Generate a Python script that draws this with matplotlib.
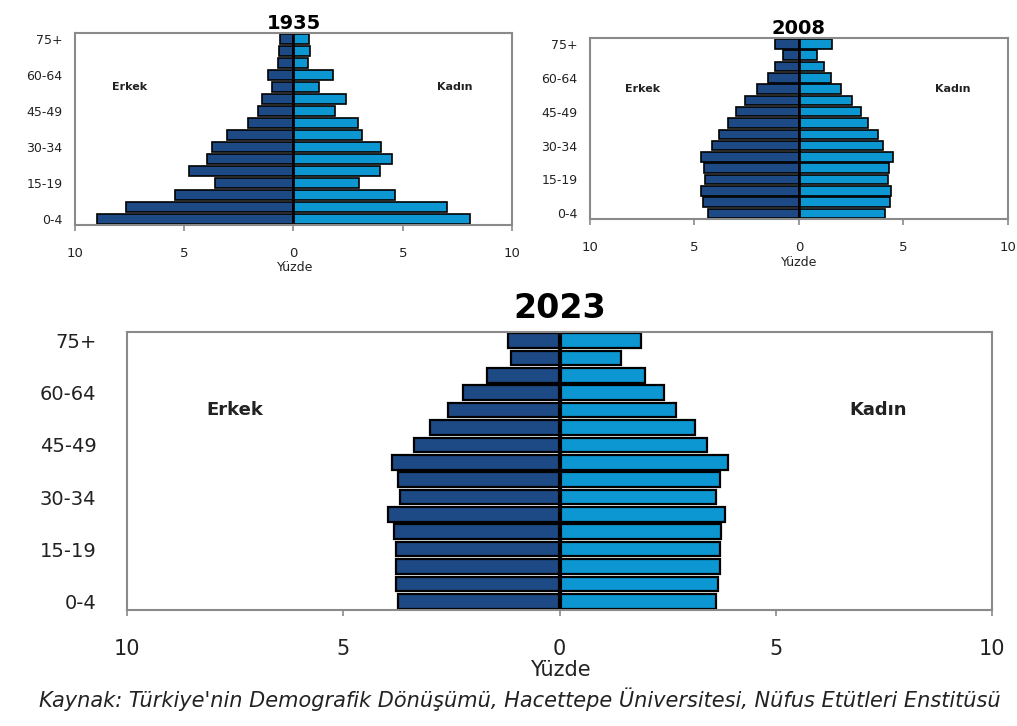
import matplotlib.pyplot as plt
import numpy as np

# age groups, bottom (0-4) to top (75+)
ages = ["0-4", "5-9", "10-14", "15-19", "20-24", "25-29", "30-34", "35-39",
        "40-44", "45-49", "50-54", "55-59", "60-64", "65-69", "70-74", "75+"]

# percent of population, listed bottom to top
men_1935 = [9.0, 7.66, 5.42, 3.59, 4.78, 3.97, 3.74, 3.05,
            2.06, 1.6, 1.45, 1.0, 1.15, 0.69, 0.64, 0.61]
women_1935 = [8.09, 7.02, 4.63, 2.98, 3.97, 4.5, 4.02, 3.13,
              2.95, 1.91, 2.41, 1.18, 1.8, 0.66, 0.76, 0.72]

men_2008 = [4.35, 4.59, 4.67, 4.51, 4.54, 4.67, 4.14, 3.82,
            3.39, 3.03, 2.6, 2.0, 1.48, 1.12, 0.76, 1.16]
women_2008 = [4.1, 4.37, 4.41, 4.25, 4.3, 4.49, 4.02, 3.78,
              3.3, 2.98, 2.55, 2.02, 1.55, 1.18, 0.86, 1.58]

men_2023 = [3.74, 3.77, 3.78, 3.78, 3.82, 3.97, 3.69, 3.74,
            3.88, 3.37, 2.99, 2.58, 2.24, 1.68, 1.13, 1.2]
women_2023 = [3.61, 3.67, 3.7, 3.72, 3.74, 3.82, 3.61, 3.7,
              3.9, 3.4, 3.13, 2.69, 2.41, 1.97, 1.43, 1.89]

xticks = [-10, -5, 0, 5, 10]
xticklabels = ["10", "5", "0", "5", "10"]

MEN = "#1d4a85"
WOMEN = "#0c97d3"

fig = plt.figure(figsize=(10.17, 7.26), dpi=100)


def pyramid(rect, men, women, title, big=False):
    ax = fig.add_axes(rect)
    y = np.arange(len(ages))
    lw = 1.6 if big else 1.2
    ax.barh(y, -np.array(men), height=0.84, color=MEN, edgecolor="black", linewidth=lw)
    ax.barh(y, women, height=0.84, color=WOMEN, edgecolor="black", linewidth=lw)
    ax.axvline(0, color="black", linewidth=3 if big else 2)
    ax.set_xlim(-10, 10)
    ax.set_ylim(-0.5, len(ages) - 0.5)
    for s in ax.spines.values():
        s.set_color("#8a8a8a")
        s.set_linewidth(1.5)
    ax.set_yticks(y[::3])
    ax.set_yticklabels(ages[::3])
    ax.set_xticks(xticks)
    ax.set_xticklabels(xticklabels)
    ax.tick_params(axis="y", length=0, labelsize=14 if big else 9,
                   pad=22 if big else 9, colors="#222222")
    ax.tick_params(axis="x", length=4, width=1.2, color="#8a8a8a",
                   labelsize=15 if big else 9.5, pad=17 if big else 12, labelcolor="#222222")
    ax.set_title(title, fontsize=24 if big else 14, fontweight="bold", pad=10 if big else 2)
    lab = 13 if big else 8
    ax.text(0.125, 0.72, "Erkek", transform=ax.transAxes, ha="center", va="center",
            fontsize=lab, fontweight="bold", color="#222222")
    ax.text(0.868, 0.72, "Kadın", transform=ax.transAxes, ha="center", va="center",
            fontsize=lab, fontweight="bold", color="#222222")
    return ax


pyramid([0.0737, 0.690, 0.4297, 0.2645], men_1935, women_1935, "1935")
pyramid([0.580, 0.6983, 0.411, 0.249], men_2008, women_2008, "2008")
pyramid([0.1249, 0.1598, 0.8505, 0.383], men_2023, women_2023, "2023", big=True)

fig.text(295 / 1017, 1 - 268 / 726, "Yüzde", ha="center", va="center", fontsize=9, color="#222222")
fig.text(799 / 1017, 1 - 262 / 726, "Yüzde", ha="center", va="center", fontsize=9, color="#222222")
fig.text(560 / 1017, 1 - 670 / 726, "Yüzde", ha="center", va="center", fontsize=15,
         color="#222222")

fig.text(520 / 1017, 1 - 699 / 726,
         "Kaynak: Türkiye'nin Demografik Dönüşümü, Hacettepe Üniversitesi, Nüfus Etütleri Enstitüsü",
         ha="center", va="center", fontsize=15, style="italic", color="#222222")

fig.savefig("out.png", dpi=100)
